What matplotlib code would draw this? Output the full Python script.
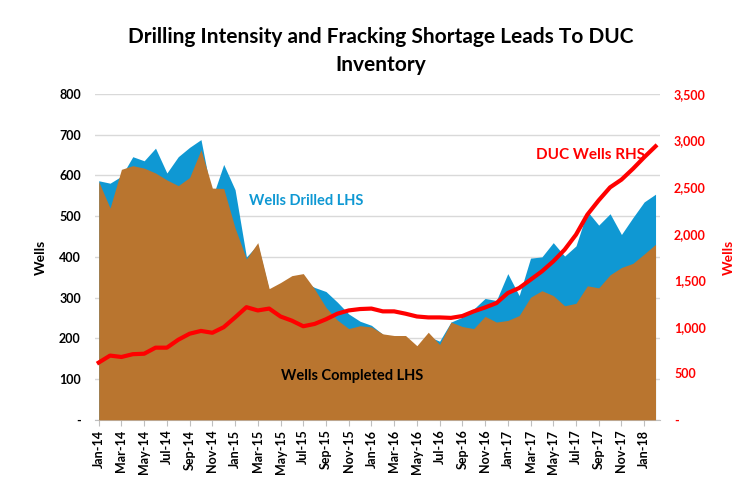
import numpy as np
import matplotlib.pyplot as plt
from matplotlib.ticker import FixedLocator

plt.rcParams["font.family"] = ["Lato", "DejaVu Sans"]

# monthly data, Jan-14 .. Feb-18
months = ["Jan", "Feb", "Mar", "Apr", "May", "Jun", "Jul", "Aug", "Sep", "Oct", "Nov", "Dec"]
dates = [f"{months[i % 12]}-{14 + i // 12}" for i in range(50)]

wells_drilled = [587, 581, 598, 646, 636, 667, 606, 646, 669, 688,
                 545, 627, 565, 400, 430, 318, 332, 348, 340, 325,
                 315, 289, 260, 242, 232, 210, 204, 202, 178, 205,
                 193, 240, 252, 272, 298, 293, 359, 305, 397, 400,
                 435, 402, 427, 512, 478, 506, 455, 496, 535, 554]
wells_completed = [585, 520, 615, 624, 618, 606, 589, 575, 595, 663,
                   569, 568, 471, 395, 435, 322, 337, 354, 359, 321,
                   276, 245, 224, 231, 228, 211, 207, 207, 182, 215,
                   185, 240, 229, 224, 254, 240, 244, 256, 301, 317,
                   305, 280, 286, 329, 324, 356, 374, 384, 407, 431]
duc_wells = [615, 690, 675, 705, 710, 775, 775, 860, 925, 955,
             935, 995, 1100, 1210, 1175, 1195, 1110, 1065, 1005, 1030,
             1080, 1140, 1175, 1190, 1195, 1165, 1165, 1140, 1110, 1100,
             1100, 1095, 1115, 1165, 1207, 1254, 1362, 1416, 1505, 1595,
             1702, 1828, 1989, 2204, 2358, 2497, 2580, 2695, 2820, 2938]

left_ticks = [0, 100, 200, 300, 400, 500, 600, 700, 800]
right_ticks = [0, 500, 1000, 1500, 2000, 2500, 3000, 3500]

blue = "#0f98d3"
brown = "#b9752f"
red = "#ff0000"

x = np.arange(len(dates))

fig = plt.figure(figsize=(7.4, 4.82), dpi=100)
ax = fig.add_axes([0.128, 0.129, 0.764, 0.676])

ax.fill_between(x, 0, wells_drilled, color=blue, lw=0, zorder=2)
ax.fill_between(x, 0, wells_completed, color=brown, lw=0, zorder=3)

ax.set_xlim(-0.35, 49.4)
ax.set_ylim(0, 800)
ax.yaxis.set_major_locator(FixedLocator(left_ticks))
ax.set_yticklabels([f"{v:,}" if v else "-" for v in left_ticks],
                   fontsize=9, fontweight="bold")
ax.grid(axis="y", color="#d9d9d9", lw=1, zorder=0)
ax.set_axisbelow(True)
ax.set_xticks(x[::2])
ax.set_xticklabels(dates[::2], rotation=90, fontsize=9, fontweight="bold")
ax.tick_params(axis="y", length=0, pad=10)
ax.tick_params(axis="x", length=4, color="#bfbfbf", pad=3)
for s in ["top", "right", "left"]:
    ax.spines[s].set_visible(False)
ax.spines["bottom"].set_color("#bfbfbf")
ax.set_ylabel("Wells", fontsize=10, fontweight="bold", labelpad=9)

ax2 = ax.twinx()
ax2.plot(x, duc_wells, color=red, lw=3, zorder=5)
ax2.set_ylim(0, 3500)
ax2.yaxis.set_major_locator(FixedLocator(right_ticks))
ax2.set_yticklabels([f"{v:,}" if v else "-" for v in right_ticks],
                    fontsize=9, fontweight="bold", color=red)
ax2.tick_params(axis="y", length=0, pad=10)
for s in ax2.spines.values():
    s.set_visible(False)
ax2.set_ylabel("Wells", fontsize=10, fontweight="bold", color=red, labelpad=12)

ax.text(18.3, 537, "Wells Drilled LHS", color=blue, fontsize=10.5,
        fontweight="bold", ha="center", va="center", zorder=6)
ax.text(22.3, 107, "Wells Completed LHS", color="black", fontsize=10.5,
        fontweight="bold", ha="center", va="center", zorder=6)
ax2.text(43.3, 2850, "DUC Wells RHS", color=red, fontsize=11,
         fontweight="bold", ha="center", va="center", zorder=6)

fig.suptitle("Drilling Intensity and Fracking Shortage Leads To DUC\nInventory",
             x=0.515, y=0.945, fontsize=15, fontweight="bold", linespacing=1.5)

fig.savefig("out.png", dpi=100)
